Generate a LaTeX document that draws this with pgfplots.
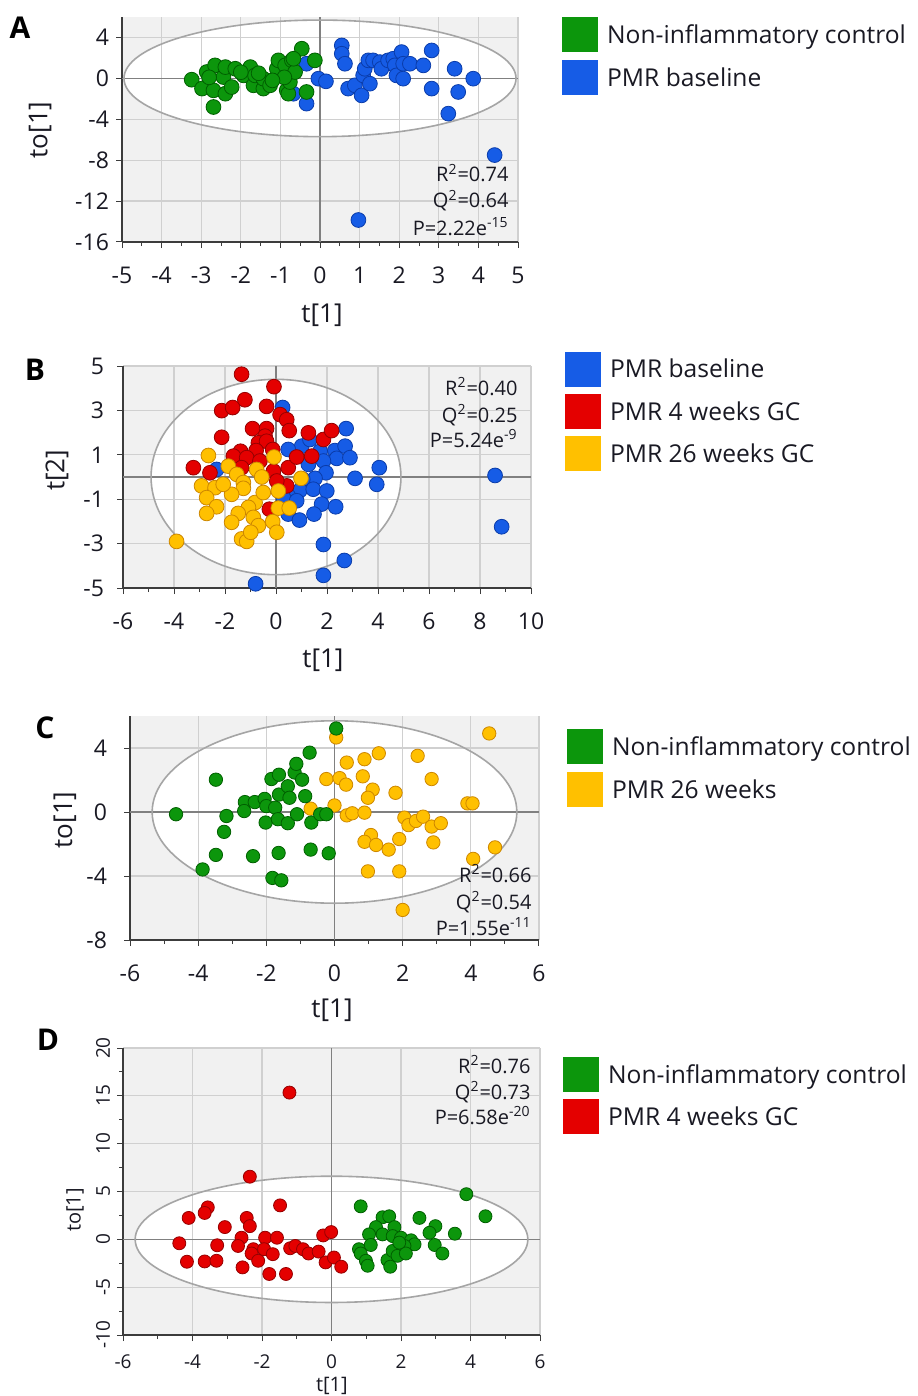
\documentclass[border=0pt]{standalone}
\usepackage{fontspec}
\setmainfont{Open Sans}
\usepackage{pgfplots}
\pgfplotsset{compat=1.18}

\definecolor{bgc}{RGB}{241,241,241}
\definecolor{gridc}{RGB}{208,208,208}
\definecolor{zeroc}{RGB}{128,128,128}
\definecolor{ellc}{RGB}{165,165,165}
\definecolor{axc}{RGB}{60,60,60}
\definecolor{txtc}{RGB}{25,25,35}
\definecolor{cg}{RGB}{12,150,12}   \definecolor{cgd}{RGB}{0,95,0}
\definecolor{cb}{RGB}{22,92,230}   \definecolor{cbd}{RGB}{10,60,170}
\definecolor{cr}{RGB}{228,0,0}     \definecolor{crd}{RGB}{150,0,0}
\definecolor{cy}{RGB}{255,192,0}   \definecolor{cyd}{RGB}{205,135,0}

\pgfplotsset{
  pca/.style={
    scale only axis, set layers, clip=false,
    axis x line*=bottom, axis y line*=left,
    axis line style={-, draw=axc, line width=0.6pt},
    tick align=outside, tick style={draw=axc, line width=0.5pt},
    major tick length=3pt, minor tick length=2pt,
    grid=major, major grid style={draw=gridc, line width=0.6pt},
    tick label style={font=\fontsize{11.5}{13}\selectfont, text=txtc},
    xticklabel style={yshift=-6pt},
    label style={font=\fontsize{13}{15}\selectfont, text=txtc},
    /pgf/number format/assume math mode=true,
    legend cell align=left,
    legend style={draw=none, fill=none, anchor=north west, inner sep=0pt,
      font=\fontsize{12.3}{14}\selectfont, text=txtc, row sep=3.8pt, column sep=4.5pt,
      nodes={inner sep=0pt}},
  },
  pts/.style n args={2}{only marks, mark=*, mark size=3.7pt, draw=#2, fill=#1,
    mark options={draw=#2, fill=#1, line width=0.4pt},
    legend image code/.code={\fill[#1] (0pt,-7.9pt) rectangle (17.5pt,9.1pt);}},
}
% grey plot area with the white confidence ellipse, under the grid
\newcommand\pcaback[2]{%
  \pgfplotsextra{%
    \begin{pgfonlayer}{axis background}
    \fill[bgc] (rel axis cs:0,0) rectangle (rel axis cs:1,1);
    \fill[white] (axis cs:0,0) ellipse [x radius=#1, y radius=#2];
    \end{pgfonlayer}}%
}

\begin{document}
\begin{tikzpicture}

% ---------------- A ----------------
\begin{axis}[pca, at={(61pt,-121pt)}, anchor=south west, width=198pt, height=112.5pt,
  xmin=-5, xmax=5, ymin=-16, ymax=6, xtick={-5,...,5}, ytick={-16,-12,...,4},
  minor x tick num=1,
  xlabel={t[1]}, ylabel={to[1]},
  xlabel style={at={(axis description cs:0.505,-0.324)}, anchor=center},
  ylabel style={at={(axis description cs:-0.207,0.498)}, anchor=center},
  legend style={at={(1.111,1.0)}}, reverse legend]
\pcaback{4.95}{5.7}
\draw[zeroc, line width=0.8pt] (axis cs:-5,0) -- (axis cs:5,0);
\draw[zeroc, line width=0.8pt] (axis cs:0,-16) -- (axis cs:0,6);
\draw[ellc, line width=0.8pt] (axis cs:0,0) ellipse [x radius=4.95, y radius=5.7];
\addplot[pts={cb}{cbd}] coordinates {
(-0.34,1.43) (-0.34,-2.47) (-0.67,-1.5) (-0.04,-0.03) (0.15,-0.29) (0.55,3.22)
(0.55,2.41) (0.63,1.43) (0.71,-1.0) (0.88,-0.68) (1.05,-1.66) (1.09,0.29)
(1.13,0.94) (1.22,1.76) (1.26,-0.52) (1.34,1.76) (1.51,1.59) (1.55,0.94)
(1.72,1.76) (1.85,1.92) (1.89,1.27) (1.93,0.29) (2.06,2.57) (2.1,1.43)
(2.1,-0.03) (2.27,1.43) (2.61,1.27) (2.82,2.73) (2.82,-1.0) (3.4,0.94)
(3.49,-1.33) (3.24,-3.45) (3.87,-0.03) (4.41,-7.5) (0.97,-13.85)
};
\addlegendentry{PMR baseline}
\addplot[pts={cg}{cgd}] coordinates {
(-3.24,-0.13) (-2.98,-1.0) (-2.86,0.62) (-2.69,-2.8) (-2.69,-1.17) (-2.65,1.27)
(-2.44,0.13) (-2.39,1.1) (-2.39,-1.5) (-2.23,-0.85) (-2.14,0.94) (-1.93,0.29)
(-1.76,1.1) (-1.68,-0.68) (-1.64,0.29) (-1.43,-1.0) (-1.43,-0.03) (-1.26,-0.68)
(-1.09,0.94) (-1.05,1.76) (-0.88,1.27) (-0.84,-1.17) (-0.8,-1.5) (-0.76,-0.36)
(-0.71,1.76) (-0.63,0.62) (-0.46,2.9) (-0.34,-1.33) (-0.13,1.76) (-0.67,1.92)
(-2.0,0.6) (-1.55,0.5) (-0.9,0.1) (-2.8,0.1) (-1.2,-0.2)
};
\addlegendentry{Non-inflammatory control}
\end{axis}

% ---------------- B ----------------
\begin{axis}[pca, at={(61.5pt,-294pt)}, anchor=south west, width=204pt, height=111pt,
  xmin=-6, xmax=10, ymin=-5, ymax=5, xtick={-6,-4,...,10}, ytick={-5,-3,...,5},
  minor x tick num=1,
  xlabel={t[1]}, ylabel={t[2]},
  yticklabel style={xshift=-3pt},
  xlabel style={at={(axis description cs:0.49,-0.324)}, anchor=center},
  ylabel style={at={(axis description cs:-0.162,0.53)}, anchor=center},
  legend style={at={(1.083,1.067)}}]
\pcaback{4.9}{4.4}
\draw[zeroc, line width=0.8pt] (axis cs:-6,0) -- (axis cs:10,0);
\draw[zeroc, line width=0.8pt] (axis cs:0,-5) -- (axis cs:0,5);
\draw[ellc, line width=0.8pt] (axis cs:0,0) ellipse [x radius=4.9, y radius=4.4];
\addplot[pts={cb}{cbd}] coordinates {
(0.26,3.13) (2.75,2.18) (1.01,1.39) (1.33,1.69) (0.48,1.24) (1.73,1.16)
(2.31,1.19) (2.71,1.39) (2.38,0.84) (2.9,0.87) (1.27,0.57) (1.86,0.72)
(1.96,0.19) (1.53,-0.06) (1.05,-0.1) (3.1,-0.06) (4.05,0.42) (3.95,-0.33)
(0.94,-0.6) (1.46,-0.55) (1.99,-0.63) (1.79,-1.22) (2.34,-1.34) (0.48,-0.85)
(0.48,-1.67) (0.92,-1.94) (1.49,-1.67) (1.86,-3.04) (2.68,-3.76) (1.86,-4.43)
(-0.8,-4.81) (8.59,0.07) (8.85,-2.24) (-2.33,0.34) (0.29,-0.93) (0.81,-1.07)
};
\addlegendentry{PMR baseline}
\addplot[pts={cr}{crd}] coordinates {
(-1.35,4.63) (-0.08,4.07) (-2.13,2.99) (-1.7,3.13) (-1.22,3.48) (-0.37,3.18)
(0.16,2.81) (0.42,2.58) (0.52,2.09) (-2.13,1.79) (-0.92,2.18) (-0.37,2.18)
(-0.43,1.84) (-0.69,1.54) (-0.37,1.61) (-1.39,1.16) (-1.67,0.94) (-0.78,1.19)
(-0.13,1.24) (-1.15,0.87) (-0.63,0.72) (-3.24,0.42) (-2.59,0.19) (-1.35,0.42)
(-0.1,0.27) (0.48,0.42) (0.81,0.9) (1.27,1.99) (1.86,1.69) (2.18,2.09)
(1.4,0.94) (0.42,-0.4) (-0.26,-1.45) (0.03,-0.18)
};
\addlegendentry{PMR 4 weeks GC}
\addplot[pts={cy}{cyd}] coordinates {
(-2.65,0.97) (-0.08,0.9) (-1.87,0.49) (-1.54,0.12) (-0.76,0.34) (-0.56,0)
(-2.92,-0.4) (-2.39,-0.48) (-1.28,-0.25) (-1.28,-0.51) (-1.74,-0.78) (-2.72,-0.93)
(-2.33,-1.34) (-2.72,-1.64) (-0.82,-1.15) (-0.5,-0.7) (0.09,-0.63) (-1.08,-1.37)
(-1.48,-1.64) (-1.74,-2.04) (-0.89,-1.82) (-0.69,-2.19) (-0.13,-2.01) (0.03,-2.49)
(-1.35,-2.79) (-1.15,-2.9) (-0.99,-2.49) (-3.9,-2.9) (0.09,-1.4) (0.52,-1.4)
(0.98,-0.06) (-2.07,-0.33)
};
\addlegendentry{PMR 26 weeks GC}
\end{axis}

% ---------------- C ----------------
\begin{axis}[pca, at={(65pt,-470pt)}, anchor=south west, width=204.5pt, height=112pt,
  xmin=-6, xmax=6, ymin=-8, ymax=6, xtick={-6,-4,...,6}, ytick={-8,-4,...,4},
  minor x tick num=1,
  xlabel={t[1]}, ylabel={to[1]},
  yticklabel style={xshift=-5pt},
  xlabel style={at={(axis description cs:0.494,-0.3125)}, anchor=center},
  ylabel style={at={(axis description cs:-0.159,0.536)}, anchor=center},
  legend style={at={(1.068,0.942)}}, reverse legend]
\pcaback{5.35}{5.7}
\draw[zeroc, line width=0.8pt] (axis cs:-6,0) -- (axis cs:6,0);
\draw[zeroc, line width=0.8pt] (axis cs:0,-8) -- (axis cs:0,6);
\draw[ellc, line width=0.8pt] (axis cs:0,0) ellipse [x radius=5.35, y radius=5.7];
\addplot[pts={cy}{cyd}, mark size=3.35pt] coordinates {
(0.05,4.66) (4.54,4.91) (-0.24,2.06) (0.15,2.12) (0.36,3.09) (0.34,1.71)
(0.88,3.3) (1.3,3.67) (0.83,2.23) (1.12,1.4) (0.98,0.89) (1.79,1.2)
(2.44,3.51) (2.85,2.06) (3.9,0.54) (4.05,0.54) (-0.7,0.21) (0,0.41)
(0.36,-0.21) (0.52,-0.08) (0.88,-0.04) (1.07,-1.44) (0.88,-1.86) (1.22,-2.06)
(1.59,-2.35) (1.9,-1.69) (2.05,-0.35) (2.17,-0.82) (2.39,-0.56) (2.6,-0.29)
(2.85,-0.91) (3.12,-0.7) (2.9,-1.9) (4.07,-2.93) (4.71,-2.21) (0.98,-3.71)
(1.9,-3.71) (2.0,-6.12)
};
\addlegendentry{PMR 26 weeks}
\addplot[pts={cg}{cgd}, mark size=3.35pt] coordinates {
(0.05,5.22) (-4.65,-0.14) (-3.48,2.02) (-3.17,-0.25) (-3.24,-1.24) (-3.48,-2.68)
(-3.87,-3.59) (-2.63,0.62) (-2.65,0.06) (-2.34,0.62) (-2.05,0.82) (-2.0,0.37)
(-2.02,-0.66) (-2.39,-2.76) (-1.85,2.06) (-1.63,2.33) (-1.63,1.09) (-1.74,0.27)
(-1.66,-0.45) (-1.37,1.61) (-1.32,0.89) (-1.37,-0.7) (-1.17,2.47) (-1.12,3.01)
(-0.95,2.02) (-1.1,-0.14) (-0.86,0.99) (-0.73,3.71) (-0.68,-0.66) (-0.7,-2.35)
(-1.64,-2.56) (-1.82,-4.12) (-1.56,-4.27) (-0.42,-0.14) (-0.24,-0.14) (-0.17,-2.58)
};
\addlegendentry{Non-inflammatory control}
\end{axis}

% ---------------- D ----------------
\begin{axis}[pca, at={(61.5pt,-667.5pt)}, anchor=south west, width=208.5pt, height=143.5pt,
  xmin=-6, xmax=6, ymin=-10, ymax=20, xtick={-6,-4,...,6}, ytick={-10,-5,...,20},
  minor x tick num=1, minor y tick num=1,
  tick label style={font=\fontsize{9.5}{11}\selectfont},
  xticklabel style={yshift=2.5pt},
  yticklabel style={rotate=90, anchor=south},
  label style={font=\fontsize{10}{12}\selectfont},
  xlabel={t[1]}, ylabel={to[1]},
  xlabel style={at={(axis description cs:0.501,-0.178)}, anchor=center},
  ylabel style={at={(axis description cs:-0.115,0.436)}, anchor=center},
  legend style={at={(1.055,0.97)}}]
\pcaback{5.65}{6.6}
\draw[zeroc, line width=0.8pt] (axis cs:-6,0) -- (axis cs:6,0);
\draw[zeroc, line width=0.8pt] (axis cs:0,-10) -- (axis cs:0,20);
\draw[ellc, line width=0.8pt] (axis cs:0,0) ellipse [x radius=5.65, y radius=6.6];
\addplot[pts={cg}{cgd}, mark size=3.25pt] coordinates {
(0.84,3.45) (3.88,4.72) (4.43,2.41) (2.53,2.24) (1.47,2.31) (1.66,2.41)
(1.28,1.28) (1.81,1.28) (1.08,0.52) (1.47,0.52) (1.76,0.34) (2.0,0.17)
(2.29,-0.1) (2.39,-0.52) (2.99,1.38) (2.82,0.69) (3.55,0.59) (2.97,-0.59)
(3.19,-1.48) (0.79,-1.03) (0.84,-1.48) (0.99,-2.24) (1.04,-2.76) (1.13,-0.59)
(1.61,-2.17) (1.69,-2.86) (1.76,-1.21) (1.9,-1.72) (2.1,-0.69) (2.14,-1.48)
(1.95,-0.34)
};
\addlegendentry{Non-inflammatory control}
\addplot[pts={cr}{crd}, mark size=3.25pt] coordinates {
(-1.21,15.34) (-2.35,6.55) (-1.48,3.55) (-3.56,3.34) (-3.65,2.76) (-4.11,2.24)
(-2.44,2.24) (-2.35,1.38) (-3.07,1.28) (-4.38,-0.41) (-4.16,-2.34) (-3.65,-2.31)
(-3.31,-2.24) (-3.29,-0.62) (-2.59,0.17) (-2.69,-0.69) (-2.56,-2.93) (-2.25,-1.03)
(-2.3,-1.48) (-2.11,-2.24) (-1.91,0.17) (-1.94,-1.03) (-1.69,-1.55) (-1.57,0.17)
(-1.79,-3.62) (-1.31,-3.62) (-1.19,-0.93) (-1.04,-0.69) (-0.82,-1.03) (-0.66,-1.48)
(-0.37,-1.28) (-0.17,-2.41) (-0.24,0.41) (-0.01,0.76) (0.07,-1.9) (0.28,-2.86)
};
\addlegendentry{PMR 4 weeks GC}
\end{axis}

% panel letters
\node[font=\bfseries\fontsize{15}{15}\selectfont] at (10pt,-14pt) {A};
\node[font=\bfseries\fontsize{15}{15}\selectfont] at (17.5pt,-185pt) {B};
\node[font=\bfseries\fontsize{15}{15}\selectfont] at (22.5pt,-364pt) {C};
\node[font=\bfseries\fontsize{15}{15}\selectfont] at (24pt,-520pt) {D};

% model statistics
\begin{scope}[every node/.style={anchor=base east, inner sep=0pt, font=\fontsize{10}{12}\selectfont, text=txtc}]
\node at (254.5pt,-91pt) {R\textsuperscript{2}=0.74};
\node at (254.5pt,-104pt) {Q\textsuperscript{2}=0.64};
\node at (254.5pt,-117.5pt) {P=2.22e\textsuperscript{-15}};
\node at (259pt,-197.5pt) {R\textsuperscript{2}=0.40};
\node at (259pt,-211pt) {Q\textsuperscript{2}=0.25};
\node at (259pt,-223.5pt) {P=5.24e\textsuperscript{-9}};
\node at (266pt,-441pt) {R\textsuperscript{2}=0.66};
\node at (266pt,-454.5pt) {Q\textsuperscript{2}=0.54};
\node at (266pt,-467.5pt) {P=1.55e\textsuperscript{-11}};
\node at (265.5pt,-536.5pt) {R\textsuperscript{2}=0.76};
\node at (265.5pt,-549.5pt) {Q\textsuperscript{2}=0.73};
\node at (265.5pt,-562pt) {P=6.58e\textsuperscript{-20}};
\end{scope}

% page = reference frame
\pgfresetboundingbox
\useasboundingbox (0,0) rectangle (458.5pt,-698pt);
\end{tikzpicture}
\end{document}
